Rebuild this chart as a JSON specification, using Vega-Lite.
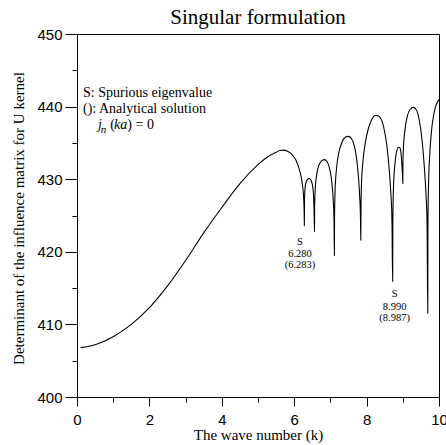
{
  "$schema": "https://vega.github.io/schema/vega-lite/v6.json",
  "width": 362,
  "height": 363,
  "autosize": {"type": "none"},
  "padding": {"left": 77, "top": 34, "right": 7, "bottom": 48},
  "background": "white",
  "title": {"text": "Singular formulation", "font": "Liberation Serif", "fontSize": 21, "fontWeight": "normal", "color": "black", "anchor": "middle", "baseline": "bottom", "offset": 5, "dy": 27},
  "config": {"view": {"stroke": "black", "strokeWidth": 1}},
  "datasets": {
    "curve": [
      {"k":0.1,"v":406.8},{"k":0.5,"v":407.2},{"k":1.0,"v":408.3},{"k":1.5,"v":410.0},{"k":2.0,"v":412.3},{"k":2.5,"v":415.3},{"k":3.0,"v":418.8},{"k":3.5,"v":422.6},{"k":4.0,"v":426.1},{"k":4.5,"v":429.4},{"k":5.0,"v":432.0},{"k":5.3,"v":433.2},{"k":5.5,"v":433.7},{"k":5.6,"v":433.95},{"k":5.7,"v":434.0},{"k":5.8,"v":433.9},{"k":5.9,"v":433.6},{"k":6.05,"v":432.6},{"k":6.15,"v":431.2},{"k":6.22,"v":429.5},{"k":6.26,"v":427.5},{"k":6.275,"v":425.5},{"k":6.28,"v":423.6},
      {"k":6.285,"v":427.0},{"k":6.3,"v":428.8},{"k":6.33,"v":429.6},{"k":6.37,"v":430.0},{"k":6.42,"v":430.1},{"k":6.47,"v":429.8},{"k":6.51,"v":429.0},{"k":6.535,"v":427.6},{"k":6.55,"v":425.5},{"k":6.56,"v":422.8},
      {"k":6.565,"v":426.5},{"k":6.58,"v":428.6},{"k":6.62,"v":430.6},{"k":6.68,"v":431.9},{"k":6.75,"v":432.5},{"k":6.83,"v":432.7},{"k":6.91,"v":432.4},{"k":6.98,"v":431.4},{"k":7.04,"v":429.6},{"k":7.08,"v":427.0},{"k":7.1,"v":424.5},{"k":7.11,"v":419.5},
      {"k":7.115,"v":425.0},{"k":7.13,"v":428.5},{"k":7.17,"v":431.5},{"k":7.24,"v":433.8},{"k":7.32,"v":435.1},{"k":7.42,"v":435.8},{"k":7.5,"v":435.9},{"k":7.58,"v":435.6},{"k":7.66,"v":434.6},{"k":7.73,"v":432.6},{"k":7.78,"v":430.0},{"k":7.81,"v":427.5},{"k":7.83,"v":425.0},{"k":7.84,"v":421.6},
      {"k":7.845,"v":426.0},{"k":7.86,"v":429.5},{"k":7.9,"v":432.5},{"k":7.97,"v":435.2},{"k":8.05,"v":437.0},{"k":8.15,"v":438.3},{"k":8.26,"v":438.8},{"k":8.37,"v":438.5},{"k":8.47,"v":437.2},{"k":8.56,"v":434.6},{"k":8.63,"v":431.0},{"k":8.67,"v":428.0},{"k":8.7,"v":424.5},{"k":8.72,"v":415.9},
      {"k":8.725,"v":424.0},{"k":8.74,"v":428.5},{"k":8.78,"v":432.0},{"k":8.83,"v":433.8},{"k":8.88,"v":434.4},{"k":8.92,"v":434.3},{"k":8.95,"v":433.6},{"k":8.975,"v":432.0},{"k":8.99,"v":430.8},{"k":9.0,"v":429.4},
      {"k":9.005,"v":432.5},{"k":9.02,"v":434.5},{"k":9.06,"v":436.8},{"k":9.12,"v":438.6},{"k":9.2,"v":439.6},{"k":9.29,"v":439.9},{"k":9.38,"v":439.5},{"k":9.46,"v":438.0},{"k":9.53,"v":435.5},{"k":9.59,"v":432.0},{"k":9.64,"v":428.0},{"k":9.67,"v":424.0},{"k":9.69,"v":411.5},
      {"k":9.695,"v":424.0},{"k":9.71,"v":429.0},{"k":9.74,"v":433.0},{"k":9.79,"v":436.5},{"k":9.85,"v":438.8},{"k":9.92,"v":440.2},{"k":10.0,"v":441.0}
    ],
    "notes": [
      {"k":0.166,"v":441.36,"t":"S: Spurious eigenvalue"},
      {"k":0.166,"v":439.16,"t":"(): Analytical solution"},
      {"k":0.92,"v":436.98,"t":"("},
      {"k":1.39,"v":436.98,"t":") = 0"}
    ],
    "italic": [
      {"k":0.58,"v":436.98,"t":"j"},
      {"k":1.022,"v":436.98,"t":"ka"}
    ],
    "sub": [
      {"k":0.655,"v":436.4,"t":"n"}
    ],
    "labels": [
      {"k":6.16,"v":420.94,"t":"S"},
      {"k":6.16,"v":419.28,"t":"6.280"},
      {"k":6.16,"v":417.7,"t":"(6.283)"},
      {"k":8.775,"v":413.77,"t":"S"},
      {"k":8.775,"v":412.05,"t":"8.990"},
      {"k":8.775,"v":410.4,"t":"(8.987)"}
    ]
  },
  "encoding": {
    "x": {
      "field": "k", "type": "quantitative",
      "scale": {"domain": [0, 10], "nice": false, "zero": false},
      "axis": {
        "values": [0,1,2,3,4,5,6,7,8,9,10],
        "labelExpr": "datum.value % 2 === 0 ? datum.label : ''",
        "tickSize": {"condition": {"test": "datum.value % 2 !== 0", "value": 5}, "value": 9},
        "labelPadding": 6,
        "labelOverlap": false,
        "labelFlush": false,
        "grid": false,
        "domainColor": "black", "tickColor": "black", "tickWidth": 1,
        "labelFont": "Liberation Sans", "labelFontSize": 15, "labelColor": "black",
        "title": "The wave number (k)",
        "titleFont": "Liberation Serif", "titleFontSize": 15, "titleFontWeight": "normal", "titleColor": "black",
        "titleBaseline": "alphabetic", "titleY": 42
      }
    },
    "y": {
      "field": "v", "type": "quantitative",
      "scale": {"domain": [400, 450], "nice": false, "zero": false},
      "axis": {
        "values": [400,405,410,415,420,425,430,435,440,445,450],
        "labelExpr": "datum.value % 10 === 0 ? datum.label : ''",
        "tickSize": {"condition": {"test": "datum.value % 10 !== 0", "value": 5}, "value": 12},
        "labelPadding": 3,
        "labelOverlap": false,
        "labelFlush": false,
        "grid": false,
        "domainColor": "black", "tickColor": "black", "tickWidth": 1,
        "labelFont": "Liberation Sans", "labelFontSize": 15, "labelColor": "black",
        "title": "Determinant of the influence matrix for U kernel",
        "titleFont": "Liberation Serif", "titleFontSize": 15, "titleFontWeight": "normal", "titleColor": "black",
        "titleBaseline": "alphabetic", "titleAlign": "center", "titleAngle": -90, "titleX": -53.5, "titleY": 184
      }
    }
  },
  "layer": [
    {"data": {"name": "curve"}, "mark": {"type": "line", "color": "black", "strokeWidth": 1.1, "interpolate": "monotone"}},
    {"data": {"name": "notes"}, "mark": {"type": "text", "align": "left", "baseline": "alphabetic", "font": "Liberation Serif", "fontSize": 14, "color": "black"}, "encoding": {"text": {"field": "t", "type": "nominal"}}},
    {"data": {"name": "italic"}, "mark": {"type": "text", "align": "left", "baseline": "alphabetic", "font": "Liberation Serif", "fontSize": 14, "fontStyle": "italic", "color": "black"}, "encoding": {"text": {"field": "t", "type": "nominal"}}},
    {"data": {"name": "sub"}, "mark": {"type": "text", "align": "left", "baseline": "alphabetic", "font": "Liberation Serif", "fontSize": 11, "fontStyle": "italic", "color": "black"}, "encoding": {"text": {"field": "t", "type": "nominal"}}},
    {"data": {"name": "labels"}, "mark": {"type": "text", "align": "center", "baseline": "alphabetic", "font": "Liberation Serif", "fontSize": 10.5, "color": "black"}, "encoding": {"text": {"field": "t", "type": "nominal"}}}
  ]
}
